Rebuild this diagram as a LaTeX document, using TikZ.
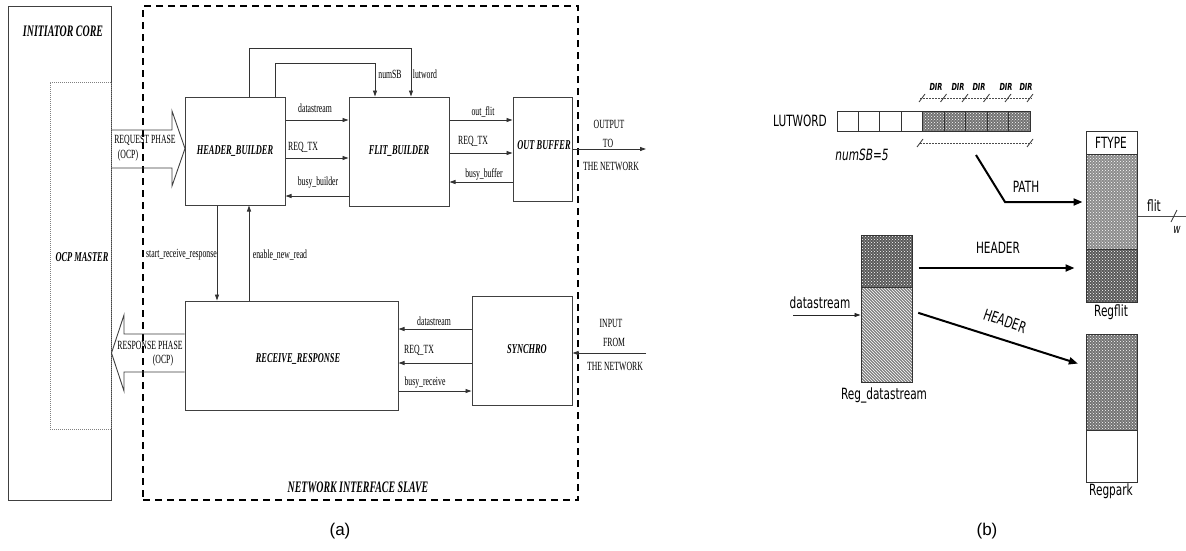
\documentclass[tikz,border=0pt]{standalone}
\usepackage{fontspec}
\setmainfont{Liberation Sans}
\newfontfamily\tmsfont[FakeStretch=0.62]{Liberation Serif}
\newfontfamily\dvsfont[FakeStretch=0.68]{DejaVu Sans}
\usetikzlibrary{arrows.meta,patterns}
\tikzset{
  blk/.style={draw=black!75, line width=1pt, inner sep=0pt},
  lab/.style={font=\tmsfont\fontsize{12.5}{13}\selectfont, inner sep=0pt},
  ttl/.style={font=\tmsfont\bfseries\itshape\fontsize{13.5}{14}\selectfont, inner sep=0pt},
  bigttl/.style={font=\tmsfont\bfseries\itshape\fontsize{16}{17}\selectfont, inner sep=0pt},
  sig/.style={draw=black!80, line width=0.9pt, -{Triangle[length=6pt,width=4pt]}},
  hollow/.style={draw=black!75, line width=0.9pt},
  bl/.style={font=\dvsfont\fontsize{15.5}{16}\selectfont, inner sep=0pt},
  dirl/.style={font=\dvsfont\bfseries\itshape\fontsize{9.7}{10}\selectfont, inner sep=0pt},
  reg/.style={draw=black!80, line width=1pt, inner sep=0pt},
  regline/.style={draw=black!80, line width=1pt},
  thk/.style={draw=black, line width=2pt, -{Triangle[length=9pt,width=7pt]}},
  thinarr/.style={draw=black!85, line width=0.9pt, -{Triangle[length=6pt,width=4pt]}},
  brk/.style={draw=black!70, line width=0.6pt, dash pattern=on 2pt off 1pt},
  tick/.style={draw=black!80, line width=0.8pt},
  captext/.style={font=\fontsize{17}{18}\selectfont, inner sep=0pt}
}
\begin{document}
\begin{tikzpicture}[x=1pt,y=-1pt]
\useasboundingbox (0,0) rectangle (1186,550);
\fill[white] (0,0) rectangle (1186,550);

% ================= (a) =================
\node[blk, minimum width=103, minimum height=494] (core) at (59.5,253) {};
\node[bigttl] (coret) at (63,31) {INITIATOR CORE};
\node[draw=black!50, line width=0.6pt, dash pattern=on 1pt off 1pt, minimum width=61, minimum height=347, inner sep=0pt] (ocp) at (80.5,255.5) {};
\node[ttl] (ocpt) at (82,257) {OCP MASTER};

\node[draw=black, line width=1.6pt, dash pattern=on 7pt off 5pt, minimum width=435, minimum height=494, inner sep=0pt] (ni) at (360.5,253) {};
\node[bigttl] (nit) at (358,487) {NETWORK INTERFACE SLAVE};

\node[blk, ttl, minimum width=100, minimum height=108] (hb) at (235,151) {HEADER\_BUILDER};
\node[blk, ttl, minimum width=100, minimum height=109] (fb) at (399,151.5) {FLIT\_BUILDER};
\node[blk, minimum width=59, minimum height=104] (ob) at (542.5,149) {};
\node[ttl] (obt) at (544,145) {OUT BUFFER};
\node[blk, minimum width=213, minimum height=109] (rr) at (291.5,355.5) {};
\node[ttl] (rrt) at (298,359) {RECEIVE\_RESPONSE};
\node[blk, minimum width=100, minimum height=109] (sy) at (522,350.5) {};
\node[ttl] (syt) at (527,349) {SYNCHRO};

% hollow arrows
\draw[hollow] (core.east |- 0,130) -- (172,130) -- (172,111) -- (185,148.5) -- (172,186) -- (172,168) -- (core.east |- 0,168);
\node[lab] (reqt) at (145,140) {REQUEST PHASE};
\node[lab] (reqo) at (128,155) {(OCP)};
\draw[hollow] (rr.west |- 0,334) -- (124,334) -- (124,315) -- (core.east |- 0,353) -- (124,391) -- (124,372) -- (rr.west |- 0,372);
\node[lab] (rest) at (150,345) {RESPONSE PHASE};
\node[lab] (reso) at (163,360) {(OCP)};

% top loops
\draw[sig] (hb.north -| 249,0) |- (411,48) -- (fb.north -| 411,0);
\draw[sig] (hb.north -| 275,0) |- (375,63) -- (fb.north -| 375,0);
\node[lab] (numsb) at (390,74) {numSB};
\node[lab] (lutw) at (425,74) {lutword};

% HB <-> FB
\draw[sig] (hb.east |- 0,120) -- (fb.west |- 0,120);
\draw[sig] (hb.east |- 0,158) -- (fb.west |- 0,158);
\draw[sig] (fb.west |- 0,196) -- (hb.east |- 0,196);
\node[lab] (l1) at (315,108) {datastream};
\node[lab] (l2) at (303,147) {REQ\_TX};
\node[lab] (l3) at (318,183) {busy\_builder};

% FB <-> OB
\draw[sig] (fb.east |- 0,120) -- (ob.west |- 0,120);
\draw[sig] (fb.east |- 0,153) -- (ob.west |- 0,153);
\draw[sig] (ob.west |- 0,182) -- (fb.east |- 0,182);
\node[lab] (l4) at (483,112) {out\_flit};
\node[lab] (l5) at (473,141) {REQ\_TX};
\node[lab] (l6) at (484,174) {busy\_buffer};

% output
\coordinate (outnet) at (646,149);
\draw[sig] (ob.east) -- (outnet);
\node[lab] (o1) at (609,124) {OUTPUT};
\node[lab] (o2) at (608,143) {TO};
\node[lab] (o3) at (611,166) {THE NETWORK};

% HB <-> RR
\draw[sig] (hb.south -| 217,0) -- (rr.north -| 217,0);
\draw[sig] (rr.north -| 249,0) -- (hb.south -| 249,0);
\node[lab, anchor=east] (srr) at (217,255) {start\_receive\_response};
\node[lab] (enr) at (280,255) {enable\_new\_read};

% SY <-> RR
\draw[sig] (sy.west |- 0,329) -- (rr.east |- 0,329);
\draw[sig] (sy.west |- 0,363) -- (rr.east |- 0,363);
\draw[sig] (rr.east |- 0,391) -- (sy.west |- 0,391);
\node[lab] (l7) at (434,321) {datastream};
\node[lab] (l8) at (419,350) {REQ\_TX};
\node[lab] (l9) at (425,383) {busy\_receive};

% input
\coordinate (innet) at (646,353);
\draw[sig] (innet) -- (sy.east |- innet);
\node[lab] (i1) at (611,323) {INPUT};
\node[lab] (i2) at (614,342) {FROM};
\node[lab] (i3) at (615,366) {THE NETWORK};

\node[captext] (capa) at (340,531) {(a)};

% ================= (b) =================
\node[bl] (lutl) at (800,121) {LUTWORD};
\fill[black!55] (922,111) rectangle (1030,131);
\fill[pattern=crosshatch dots, pattern color=white] (922,111) rectangle (1030,131);
\node[reg, minimum width=193, minimum height=20] (lut) at (933.5,121) {};
\foreach \i in {1,...,8} {
  \draw[regline] (837+\i*21.44,111) -- (837+\i*21.44,131);
}
% DIR bracket
\draw[brk] (920,98) -- (1032,98);
\foreach \xx in {922,943.5,965,986.5,1008,1030} {
  \draw[tick] (\xx-3,102) -- (\xx+3,94);
}
\node[dirl] (d1) at (936,87) {DIR};
\node[dirl] (d2) at (958,87) {DIR};
\node[dirl] (d3) at (979,87) {DIR};
\node[dirl] (d4) at (1006,87) {DIR};
\node[dirl] (d5) at (1026,87) {DIR};
% lower bracket
\draw[brk] (920,143) -- (1032,143);
\draw[tick] (917,147) -- (923,139);
\draw[tick] (1027,147) -- (1033,139);
\node[bl, font=\dvsfont\itshape\fontsize{15.5}{16}\selectfont] (nsb) at (862,155) {numSB=5};

% Regflit
\fill[black!45] (1086,154) rectangle (1137,249);
\fill[pattern=crosshatch dots, pattern color=white] (1086,154) rectangle (1137,249);
\fill[black!65] (1086,249) rectangle (1137,302);
\fill[pattern=crosshatch dots, pattern color=white] (1086,249) rectangle (1137,302);
\node[reg, minimum width=51, minimum height=171] (rf) at (1111.5,216.5) {};
\draw[regline] (1086,154) -- (1137,154) (1086,249) -- (1137,249);
\node[bl] (ftype) at (1111,143) {FTYPE};
\node[bl] (rfl) at (1111,312) {Regflit};

% flit output
\coordinate (flitend) at (1186,216.5);
\draw[draw=black!70, line width=0.8pt] (rf.east) -- (flitend);
\draw[tick] (1171,222) -- (1177,210);
\node[bl] (flitl) at (1154,206) {flit};
\node[bl, font=\dvsfont\itshape\fontsize{13}{14}\selectfont] (wl) at (1177,230) {w};

% Reg_datastream
\fill[black!65] (861,235) rectangle (912,287);
\fill[pattern=crosshatch dots, pattern color=white] (861,235) rectangle (912,287);
\fill[black!50] (861,287) rectangle (912,382);
\fill[pattern=north west lines, pattern color=white] (861,287) rectangle (912,382);
\node[reg, minimum width=51, minimum height=147] (rd) at (886.5,308.5) {};
\draw[regline] (861,287) -- (912,287);
\node[bl] (rdl) at (884,395) {Reg\_datastream};

\coordinate (dsin) at (793,315);
\draw[thinarr] (dsin) -- (rd.west |- dsin);
\node[bl] (dsl) at (820,303) {datastream};

% Regpark
\fill[black!55] (1086,334) rectangle (1137,430);
\fill[pattern=crosshatch dots, pattern color=white] (1086,334) rectangle (1137,430);
\node[reg, minimum width=51, minimum height=148] (rp) at (1111.5,408) {};
\draw[regline] (1086,430) -- (1137,430);
\node[bl] (rpl) at (1111,491) {Regpark};

% thick arrows
\coordinate (pathstart) at (976,155);
\draw[thk, shorten >=3pt] (pathstart) -- (1005,202) -- (rf.west |- 0,202);
\node[bl] (pathl) at (1026,187) {PATH};
\draw[thk, shorten <=6pt, shorten >=11pt] (rd.east |- 0,268) -- (rf.west |- 0,268);
\node[bl] (h1) at (998,248) {HEADER};
\draw[thk, shorten <=6pt, shorten >=8pt] (rd.east |- 0,311) -- (rp.west |- 0,366);
\node[bl, rotate=-19] (h2) at (1005,321) {HEADER};

\node[captext] (capb) at (987,531) {(b)};
\end{tikzpicture}
\end{document}
